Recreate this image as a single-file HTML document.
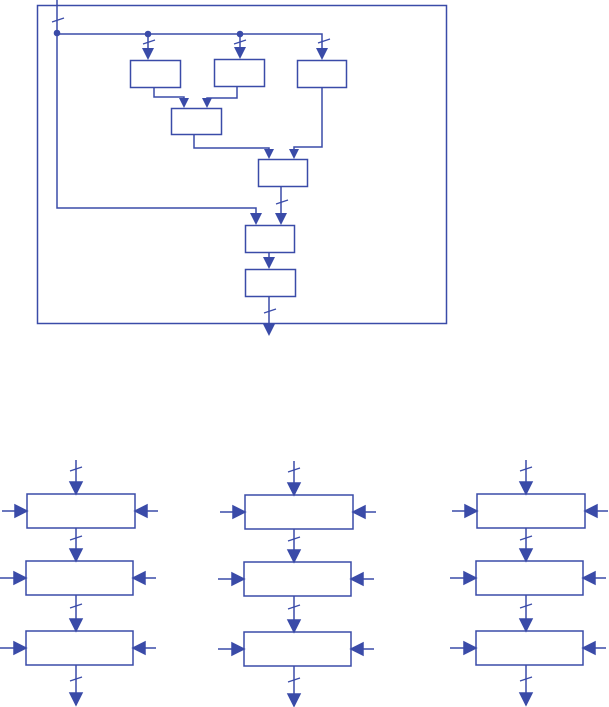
<!DOCTYPE html>
<html><head><style>html,body{margin:0;padding:0;background:#fff}svg{display:block}</style></head><body>
<svg width="609" height="707" viewBox="0 0 609 707" xmlns="http://www.w3.org/2000/svg">
<defs>
<g id="ah"><polygon points="-6,-12 6,-12 0,0" fill="#3a4ba8"/></g>
<g id="sah"><polygon points="-5,-10 5,-10 0,0" fill="#3a4ba8"/></g>
<g id="sl"><line x1="-6" y1="2" x2="6" y2="-2" stroke="#3a4ba8" stroke-width="1.2"/></g>
<g id="col">
<line x1="0" y1="460" x2="0" y2="494" /><use href="#ah" x="0" y="494"/><use href="#sl" x="0" y="469"/>
<rect x="-49" y="494" width="108" height="34"/>
<line x1="0" y1="528" x2="0" y2="561"/><use href="#ah" x="0" y="561"/><use href="#sl" x="0" y="538"/>
<rect x="-50" y="561" width="107" height="34"/>
<line x1="0" y1="595" x2="0" y2="631"/><use href="#ah" x="0" y="631"/><use href="#sl" x="0" y="606"/>
<rect x="-50" y="631" width="107" height="34"/>
<line x1="0" y1="665" x2="0" y2="705"/><use href="#ah" x="0" y="705"/><use href="#sl" x="0" y="679"/>
<line x1="-74" y1="511" x2="-50" y2="511"/><use href="#ah" transform="translate(-49,511) rotate(-90)"/>
<line x1="82" y1="511" x2="60" y2="511"/><use href="#ah" transform="translate(59,511) rotate(90)"/>
<line x1="-76" y1="578" x2="-51" y2="578"/><use href="#ah" transform="translate(-50,578) rotate(-90)"/>
<line x1="80" y1="578" x2="58" y2="578"/><use href="#ah" transform="translate(57,578) rotate(90)"/>
<line x1="-76" y1="648" x2="-51" y2="648"/><use href="#ah" transform="translate(-50,648) rotate(-90)"/>
<line x1="80" y1="648" x2="58" y2="648"/><use href="#ah" transform="translate(57,648) rotate(90)"/>
</g>
</defs>
<g fill="none" stroke="#3a4ba8" stroke-width="1.5">
<rect x="37.5" y="5.5" width="409" height="318"/>
<polyline points="57,0 57,208 256,208 256,214"/>
<polyline points="57,34 322,34 322,50"/>
<line x1="148" y1="34" x2="148" y2="50"/><line x1="240" y1="34" x2="240" y2="50"/>
<rect x="130.5" y="60.5" width="50" height="27"/>
<rect x="214.5" y="59.5" width="50" height="27"/>
<rect x="297.5" y="60.5" width="49" height="27"/>
<rect x="171.5" y="108.5" width="50" height="26"/>
<rect x="258.5" y="159.5" width="49" height="27"/>
<rect x="245.5" y="225.5" width="49" height="27"/>
<rect x="245.5" y="269.5" width="50" height="27"/>
<polyline points="154,87 154,97 184,97 184,102"/>
<polyline points="237,86 237,98 207,98 207,102"/>
<polyline points="194,134 194,148 269,148 269,152"/>
<polyline points="322,87 322,147 294,147 294,152"/>
<line x1="281" y1="186" x2="281" y2="214"/>
<line x1="269" y1="252" x2="269" y2="260"/>
<line x1="269" y1="296" x2="269" y2="326"/>
<g transform="translate(76,0)"><use href="#col"/></g>
<g transform="translate(294,1)"><use href="#col"/></g>
<g transform="translate(526,0)"><use href="#col"/></g>
</g>
<g fill="#3a4ba8">
<circle cx="57" cy="33" r="3.3"/><circle cx="148" cy="34" r="3.3"/><circle cx="240" cy="34" r="3.3"/>
</g>
<use href="#ah" x="148" y="60"/><use href="#ah" x="240" y="59"/><use href="#ah" x="322" y="60"/>
<use href="#sah" x="184" y="108"/><use href="#sah" x="207" y="108"/>
<use href="#sah" x="269" y="159"/><use href="#sah" x="294" y="159"/>
<use href="#ah" x="256" y="225"/><use href="#ah" x="281" y="225"/>
<use href="#ah" x="269" y="269"/><use href="#ah" x="269" y="336"/>
<use href="#sl" x="58" y="20"/><use href="#sl" x="149" y="42"/><use href="#sl" x="240" y="42"/>
<use href="#sl" x="324" y="41"/><use href="#sl" x="282" y="202"/><use href="#sl" x="270" y="311"/>
</svg>
</body></html>
